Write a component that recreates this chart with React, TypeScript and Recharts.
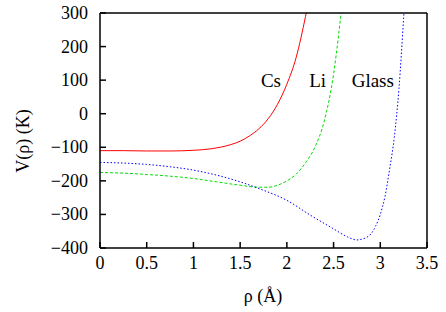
import React from 'react';
import { LineChart, Line, XAxis, YAxis, ReferenceDot, Label } from 'recharts';

// tick values
const rhoTicks = [0, 0.5, 1, 1.5, 2, 2.5, 3, 3.5];
const vTicks = [-400, -300, -200, -100, 0, 100, 200, 300];

// Cs (red, solid)
const csRho = [0, 0.25, 0.5, 0.75, 1.0, 1.2, 1.4, 1.5, 1.6, 1.7, 1.8, 1.9, 2.0, 2.1, 2.2, 2.25];
const csV = [-110, -110, -111, -111, -109, -104, -92, -82, -66, -45, -15, 28, 88, 168, 290, 360];

// Li (green, dashed)
const liRho = [0, 0.25, 0.5, 0.75, 1.0, 1.25, 1.5, 1.7, 1.8, 1.9, 2.0, 2.1, 2.2, 2.3, 2.4, 2.5, 2.55, 2.6];
const liV = [-175, -177, -181, -186, -193, -203, -213, -219, -219, -213, -200, -180, -146, -100, -22, 118, 225, 350];

// Glass (blue, dotted)
const glassRho = [0, 0.25, 0.5, 0.75, 1.0, 1.25, 1.5, 1.75, 2.0, 2.25, 2.5, 2.65, 2.75, 2.8, 2.9, 2.95, 3.0, 3.05, 3.1, 3.15, 3.2, 3.25, 3.3];
const glassV = [-145, -147, -151, -158, -168, -183, -203, -228, -258, -302, -343, -367, -376, -374, -358, -335, -300, -247, -165, -70, 75, 285, 500];

// curve labels
const labelNames = ['Cs', 'Li', 'Glass'];
const labelRho = [1.83, 2.33, 2.92];
const labelV = [100, 100, 100];

const zip = (xs: number[], ys: number[]) => xs.map((rho, i) => ({ rho, v: ys[i] }));

const csData = zip(csRho, csV);
const liData = zip(liRho, liV);
const glassData = zip(glassRho, glassV);

const FONT = "'Liberation Serif', 'DejaVu Serif', serif";
const FS = 18;
const TICK = 6;
const textStyle = { fontFamily: FONT, fontSize: FS, fill: '#000' };
const fmt = (v: number) => String(v).replace('-', '\u2212');

const BottomTick = (props: any) => {
  const { x, y, payload } = props;
  return (
    <g>
      <line x1={x} y1={y} x2={x} y2={y - TICK} stroke="#000" strokeWidth={1.5} />
      <text x={x} y={y + 21} textAnchor="middle" fontFamily={FONT} fontSize={FS} fill="#000">
        {fmt(payload.value)}
      </text>
    </g>
  );
};

const LeftTick = (props: any) => {
  const { x, y, payload } = props;
  return (
    <g>
      <line x1={x} y1={y} x2={x + TICK} y2={y} stroke="#000" strokeWidth={1.5} />
      <text x={x - 12} y={y + 6} textAnchor="end" fontFamily={FONT} fontSize={FS} fill="#000">
        {fmt(payload.value)}
      </text>
    </g>
  );
};

const TopTick = (props: any) => {
  const { x, y } = props;
  return <line x1={x} y1={y} x2={x} y2={y + TICK} stroke="#000" strokeWidth={1.5} />;
};

const RightTick = (props: any) => {
  const { x, y } = props;
  return <line x1={x} y1={y} x2={x - TICK} y2={y} stroke="#000" strokeWidth={1.5} />;
};

const axisLine = { stroke: '#000', strokeWidth: 1.5 };

export default function App() {
  return (
    <div style={{ position: 'absolute', left: 0, top: 0, background: '#fff', fontFamily: FONT }}>
      <LineChart width={446} height={312} margin={{ top: 0, right: 0, bottom: 0, left: 0 }}>
        <XAxis
          xAxisId="b"
          dataKey="rho"
          type="number"
          domain={[0, 3.5]}
          ticks={rhoTicks}
          interval={0}
          allowDataOverflow
          height={64}
          tickSize={0}
          tickMargin={0}
          tickLine={false}
          axisLine={axisLine}
          tick={<BottomTick />}
        >
          <Label
            content={() => (
              <text x={263} y={302} textAnchor="middle" fontFamily={FONT} fontSize={FS} fill="#000">
                ρ (Å)
              </text>
            )}
          />
        </XAxis>
        <XAxis
          xAxisId="t"
          orientation="top"
          type="number"
          domain={[0, 3.5]}
          ticks={rhoTicks}
          interval={0}
          height={13}
          tickSize={0}
          tickMargin={0}
          tickLine={false}
          axisLine={axisLine}
          tick={<TopTick />}
        />
        <YAxis
          yAxisId="l"
          type="number"
          domain={[-400, 300]}
          ticks={vTicks}
          interval={0}
          allowDataOverflow
          width={100}
          tickSize={0}
          tickMargin={0}
          tickLine={false}
          axisLine={axisLine}
          tick={<LeftTick />}
        >
          <Label
            content={() => (
              <text
                x={23}
                y={141}
                transform="rotate(-90, 23, 141)"
                textAnchor="middle"
                dominantBaseline="central"
                fontFamily={FONT}
                fontSize={FS}
                fill="#000"
              >
                V(ρ) (K)
              </text>
            )}
          />
        </YAxis>
        <YAxis
          yAxisId="r"
          orientation="right"
          type="number"
          domain={[-400, 300]}
          ticks={vTicks}
          interval={0}
          width={19}
          tickSize={0}
          tickMargin={0}
          tickLine={false}
          axisLine={axisLine}
          tick={<RightTick />}
        />
        <Line
          xAxisId="b"
          yAxisId="l"
          data={csData}
          dataKey="v"
          type="monotone"
          stroke="#ff0000"
          strokeWidth={1}
          dot={false}
          isAnimationActive={false}
        />
        <Line
          xAxisId="b"
          yAxisId="l"
          data={liData}
          dataKey="v"
          type="monotone"
          stroke="#00dd00"
          strokeWidth={1}
          strokeDasharray="3 2"
          dot={false}
          isAnimationActive={false}
        />
        <Line
          xAxisId="b"
          yAxisId="l"
          data={glassData}
          dataKey="v"
          type="monotone"
          stroke="#0000ff"
          strokeWidth={1}
          strokeDasharray="1.5 2"
          dot={false}
          isAnimationActive={false}
        />
        {labelNames.map((name, i) => (
          <ReferenceDot
            key={name}
            xAxisId="b"
            yAxisId="l"
            x={labelRho[i]}
            y={labelV[i]}
            r={1}
            fill="none"
            stroke="none"
            label={{ value: name, position: 'center', fontFamily: FONT, fontSize: 19, fill: '#000' }}
          />
        ))}
      </LineChart>
    </div>
  );
}
